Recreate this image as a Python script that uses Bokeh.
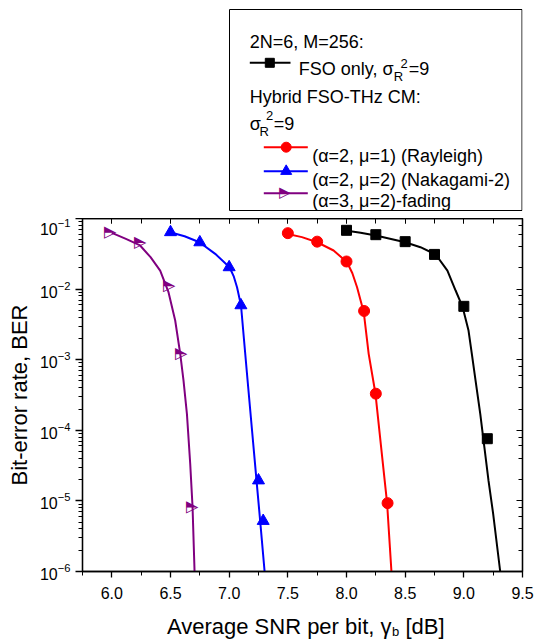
import numpy as np
from bokeh.plotting import figure
from bokeh.layouts import column
from bokeh.models import (Range1d, LinearAxis, LogAxis, SingleIntervalTicker,
                          LogTicker, PrintfTickFormatter, CustomJSTickFormatter)
from bokeh.core.properties import value
from bokeh.embed import file_html
from bokeh.resources import INLINE

FONT = value("Liberation Sans")

# ---------------- data ----------------
# simulation markers
fso_snr = [8.0, 8.25, 8.5, 8.75, 9.0, 9.2]
fso_ber = [0.068, 0.059, 0.047, 0.031, 0.0057, 7.6e-5]
ray_snr = [7.5, 7.75, 8.0, 8.15, 8.25, 8.35]
ray_ber = [0.062, 0.047, 0.0246, 0.0049, 3.3e-4, 9.3e-6]
nak_snr = [6.5, 6.75, 7.0, 7.1, 7.25, 7.29]
nak_ber = [0.064, 0.046, 0.0204, 0.0059, 1.95e-5, 5.2e-6]
a3_snr = [6.0, 6.25, 6.5, 6.6, 6.70]
a3_ber = [0.063, 0.045, 0.011, 0.0012, 8.1e-6]

# analytical curves
fso_curve_snr = [7.99, 8.12, 8.25, 8.50, 8.63, 8.76, 8.86, 8.93, 8.99, 9.04,
                 9.07, 9.10, 9.14, 9.175, 9.21, 9.25, 9.31]
fso_curve_ber = [0.0676, 0.0630, 0.0574, 0.0461, 0.0392, 0.0309, 0.0183,
                 0.00955, 0.00555, 0.00259, 0.00115, 5.07e-4, 1.71e-4,
                 5.76e-5, 1.95e-5, 6.57e-6, 1.0e-6]
ray_curve_snr = [7.49, 7.62, 7.75, 7.89, 8.005, 8.05, 8.09, 8.147, 8.189,
                 8.247, 8.298, 8.346, 8.383]
ray_curve_ber = [0.0607, 0.0545, 0.0461, 0.0352, 0.0240, 0.0168, 0.01064,
                 0.00471, 0.00121, 3.29e-4, 5.18e-5, 9.27e-6, 1.0e-6]
nak_curve_snr = [6.497, 6.62, 6.747, 6.881, 7.003, 7.04, 7.067, 7.101, 7.127,
                 7.157, 7.195, 7.233, 7.264, 7.302]
nak_curve_ber = [0.064, 0.0560, 0.0461, 0.0316, 0.0204, 0.0150, 0.01064,
                 0.00586, 0.00187, 5.07e-4, 9.93e-5, 1.95e-5, 5.27e-6, 1.0e-6]
a3_curve_snr = [6.0, 6.12, 6.241, 6.33, 6.412, 6.483, 6.540, 6.583, 6.611,
                6.640, 6.668, 6.688, 6.705]
a3_curve_ber = [0.0627, 0.0515, 0.0415, 0.0283, 0.0183, 0.00904, 0.00359,
                0.00121, 5.07e-4, 1.71e-4, 3.36e-5, 8.15e-6, 1.0e-6]

x_ticks_interval = 0.5
x_lim = (5.75, 9.5)
y_lim = (1e-6, 1e-1)

BLACK, RED, BLUE, PURPLE = "black", "#ff0000", "#0000ff", "#800080"
HALF_TRI = "\u25ed"  # up triangle, left half black -> rotated to point right

W = 534
BL, BR = 82, 12          # shared left / right borders so the stacked frames align
H_LEG, H_MAIN, H_XL = 218, 390, 31


def panel(h):
    f = figure(width=W, height=h, x_range=Range1d(BL, W - BR),
               y_range=Range1d(h, 0), output_backend="svg",
               toolbar_location=None, min_border_left=BL, min_border_right=BR,
               min_border_top=0, min_border_bottom=0,
               x_axis_type=None, y_axis_type=None, outline_line_color=None)
    f.xgrid.visible = False
    f.ygrid.visible = False
    return f


# ---------------- legend panel ----------------
leg = panel(H_LEG)
leg.quad(left=[229], right=[521.5], top=[9], bottom=[210], fill_color=None,
         line_color="black", line_width=1)

txt = dict(text_font=FONT, text_font_size="18px", text_baseline="alphabetic",
           text_align="left", text_color="black")
small = dict(text_font=FONT, text_font_size="13px", text_baseline="alphabetic",
             text_align="left", text_color="black")
leg.text(x=[249.3], y=[41.7], text=["2N=6, M=256:"], **txt)
leg.line([249.3, 290], [62.3, 62.3], line_color=BLACK, line_width=2)
leg.scatter([269.3], [62.3], marker="square", size=9, color=BLACK)
leg.text(x=[393.0], y=[68.3], text=["FSO only, \u03c3"], text_font=FONT,
         text_font_size="18px", text_baseline="alphabetic", text_align="right",
         text_color="black")
leg.text(x=[393.3], y=[75.5], text=["R"], **small)
leg.text(x=[400.0], y=[63.0], text=["2"], **small)
leg.text(x=[408.3], y=[68.3], text=["=9"], **txt)
leg.text(x=[249.3], y=[96.7], text=["Hybrid FSO-THz CM:"], **txt)
leg.text(x=[249.3], y=[123.5], text=["\u03c3"], **txt)
leg.text(x=[259.0], y=[130.5], text=["R"], **small)
leg.text(x=[265.5], y=[115.0], text=["2"], **small)
leg.text(x=[273.3], y=[123.5], text=["=9"], **txt)

leg.line([263.3, 307.3], [146.7, 146.7], line_color=RED, line_width=2)
leg.scatter([285.7], [146.7], marker="circle", size=10, color=RED)
leg.text(x=[311.7], y=[155], text=["(\u03b1=2, \u03bc=1) (Rayleigh)"], **txt)
leg.line([263.3, 307.3], [170.7, 170.7], line_color=BLUE, line_width=2)
leg.scatter([285.7], [170.7], marker="triangle", size=11, color=BLUE)
leg.text(x=[311.7], y=[179], text=["(\u03b1=2, \u03bc=2) (Nakagami-2)"], **txt)
leg.line([263.3, 307.3], [192.7, 192.7], line_color=PURPLE, line_width=2)
leg.text(x=[285.7], y=[192.7], text=[HALF_TRI], angle=-np.pi / 2,
         text_font=value("DejaVu Sans"), text_font_size="15px",
         text_color=PURPLE, text_align="center", text_baseline="middle")
leg.text(x=[311.7], y=[200], text=["(\u03b1=3, \u03bc=2)-fading"], **txt)

# ---------------- main plot ----------------
p = figure(width=W, height=H_MAIN, x_range=x_lim, y_range=y_lim, y_axis_type="log",
           output_backend="svg", toolbar_location=None,
           min_border_left=BL, min_border_right=BR, min_border_top=0,
           min_border_bottom=37)
p.xgrid.visible = False
p.ygrid.visible = False
p.outline_line_color = "black"
p.outline_line_width = 1.3

p.xaxis.ticker = SingleIntervalTicker(interval=x_ticks_interval, num_minor_ticks=2)
p.xaxis.formatter = PrintfTickFormatter(format="%.1f")
for ax in (p.xaxis[0], p.yaxis[0]):
    ax.axis_line_width = 1.3
    ax.major_tick_line_width = 1.3
    ax.minor_tick_line_width = 1
    ax.major_tick_in = 0
    ax.minor_tick_in = 0
    ax.major_label_text_font = "Liberation Sans"
    ax.major_label_text_font_size = "16px"
    ax.major_label_text_color = "black"
    ax.axis_label_text_font = "Liberation Sans"
    ax.axis_label_text_font_style = "normal"
    ax.axis_label_text_color = "black"
p.xaxis.major_tick_out = 6
p.xaxis.minor_tick_out = 4
p.xaxis.major_label_standoff = 9
p.yaxis.major_tick_out = 7
p.yaxis.minor_tick_out = 4
p.yaxis.major_label_standoff = 5
p.yaxis.axis_label = "Bit-error rate, BER"
p.yaxis.axis_label_text_font_size = "22px"
p.yaxis.axis_label_standoff = 5

top = LinearAxis(ticker=SingleIntervalTicker(interval=x_ticks_interval, num_minor_ticks=2),
                 formatter=CustomJSTickFormatter(code="return ''"),
                 major_label_standoff=0,
                 major_tick_in=5, major_tick_out=0, minor_tick_in=5, minor_tick_out=0,
                 axis_line_width=1.3, major_tick_line_width=1, minor_tick_line_width=1)
p.add_layout(top, "above")
right = LogAxis(ticker=LogTicker(), formatter=CustomJSTickFormatter(code="return ''"),
                major_label_standoff=0, major_tick_in=6, major_tick_out=0,
                minor_tick_in=4, minor_tick_out=0, axis_line_width=1.3,
                major_tick_line_width=1, minor_tick_line_width=1)
p.add_layout(right, "right")

p.line(fso_curve_snr, fso_curve_ber, line_color=BLACK, line_width=2)
p.line(ray_curve_snr, ray_curve_ber, line_color=RED, line_width=2)
p.line(nak_curve_snr, nak_curve_ber, line_color=BLUE, line_width=2)
p.line(a3_curve_snr, a3_curve_ber, line_color=PURPLE, line_width=2)

p.scatter(fso_snr, fso_ber, marker="square", size=10, color=BLACK)
p.scatter(ray_snr, ray_ber, marker="circle", size=11, color=RED)
p.scatter(nak_snr, nak_ber, marker="triangle", size=12, color=BLUE)
p.text(a3_snr, a3_ber, text=[HALF_TRI] * len(a3_snr), angle=-np.pi / 2,
       text_font=value("DejaVu Sans"), text_font_size="16px", text_color=PURPLE,
       text_align="center", text_baseline="middle")

# ---------------- x-axis title panel ----------------
xl = panel(H_XL)
xl.text(x=[391], y=[17.5], text=["Average SNR per bit, \u03b3"], text_font=FONT,
        text_font_size="22px", text_align="right", text_baseline="alphabetic",
        text_color="black")
xl.text(x=[391.5], y=[22.5], text=["b"], text_font=FONT, text_font_size="13px",
        text_align="left", text_baseline="alphabetic", text_color="black")
xl.text(x=[405], y=[17.5], text=["[dB]"], text_font=FONT, text_font_size="22px",
        text_align="left", text_baseline="alphabetic", text_color="black")

layout = column(leg, p, xl, spacing=0)
open("out.html", "w").write(file_html(layout, INLINE))
